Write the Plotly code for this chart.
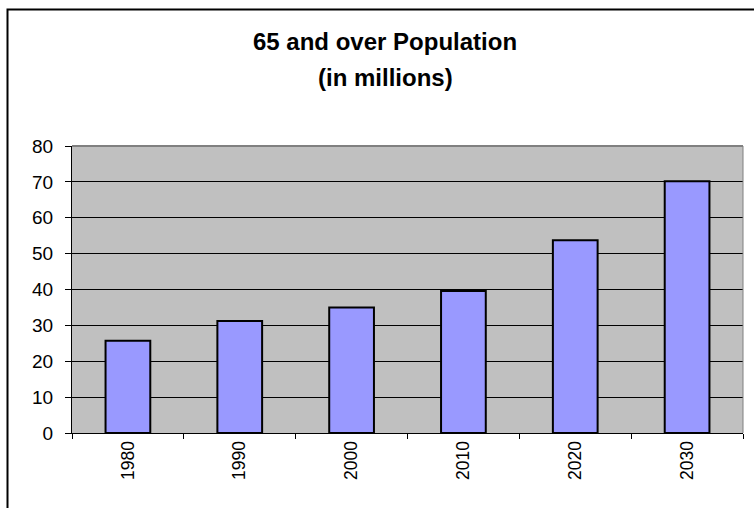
import plotly.graph_objects as go

years = ["1980", "1990", "2000", "2010", "2020", "2030"]
population = [25.7, 31.2, 35.0, 39.6, 53.7, 70.2]
y_ticks = [0, 10, 20, 30, 40, 50, 60, 70, 80]
title_lines = ["65 and over Population", "(in millions)"]

FONT = "Liberation Sans, Arial, sans-serif"

fig = go.Figure(
    go.Bar(
        x=years,
        y=population,
        marker=dict(color="#9999FF", line=dict(color="black", width=2)),
        hoverinfo="x+y",
    )
)

L, R, T, B = 72, 11, 146, 75
W, H = 754, 508
pw, ph = W - L - R, H - T - B


def px_x(x):
    return (x - L) / pw


def px_y(y):
    return (H - B - y) / ph


fig.update_layout(
    width=W,
    height=H,
    margin=dict(l=L, r=R, t=T, b=B),
    paper_bgcolor="white",
    plot_bgcolor="#C0C0C0",
    bargap=0.6,
    showlegend=False,
    font=dict(family=FONT, color="black"),
    xaxis=dict(
        type="category",
        tickangle=-90,
        tickson="boundaries",
        ticks="outside",
        ticklen=5,
        tickcolor="black",
        showline=True,
        linecolor="black",
        linewidth=1,
        showgrid=False,
        tickfont=dict(family=FONT, size=17.5, color="black"),
        fixedrange=True,
    ),
    yaxis=dict(
        range=[0, 80],
        tickvals=y_ticks,
        ticks="outside",
        ticklen=6,
        tickcolor="black",
        showline=True,
        linecolor="black",
        linewidth=1,
        showgrid=True,
        gridcolor="black",
        gridwidth=1,
        zeroline=False,
        ticklabelstandoff=8,
        tickfont=dict(family=FONT, size=19, color="black"),
        fixedrange=True,
    ),
    annotations=[
        dict(text="<b>%s</b>" % title_lines[0], xref="paper", yref="paper",
             x=px_x(385), y=px_y(41.5), xanchor="center", yanchor="middle",
             showarrow=False, font=dict(family=FONT, size=24, color="black")),
        dict(text="<b>%s</b>" % title_lines[1], xref="paper", yref="paper",
             x=px_x(385), y=px_y(77), xanchor="center", yanchor="middle",
             showarrow=False, font=dict(family=FONT, size=24, color="black")),
    ],
    shapes=[
        # plot area border (gray top/right)
        dict(type="line", xref="paper", yref="paper", x0=0, x1=1, y0=1, y1=1,
             line=dict(color="#808080", width=2)),
        dict(type="line", xref="paper", yref="paper", x0=1, x1=1, y0=0, y1=1,
             line=dict(color="#808080", width=1)),
        # chart area border
        dict(type="rect", xref="paper", yref="paper",
             x0=px_x(7.5), x1=px_x(W + 20),
             y0=px_y(H + 20), y1=px_y(9.5),
             line=dict(color="black", width=2), layer="below"),
    ],
)

fig.write_html("out.html")
